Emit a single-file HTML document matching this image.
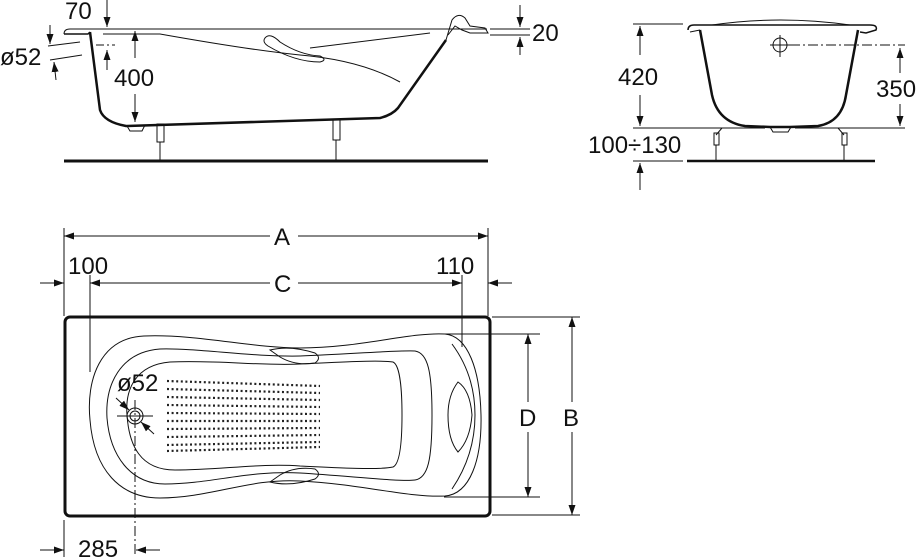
<!DOCTYPE html>
<html><head><style>
html,body{margin:0;padding:0;background:#fff;}
svg{display:block;}
text{font-family:"Liberation Sans",sans-serif;font-size:24px;fill:#111;}
</style></head><body>
<svg width="920" height="557" viewBox="0 0 920 557" xmlns="http://www.w3.org/2000/svg">
<defs>
<marker id="ar" viewBox="0 0 10 10" refX="10" refY="5" markerWidth="10" markerHeight="10" orient="auto-start-reverse" markerUnits="userSpaceOnUse"><path d="M0,1.5 L10,5 L0,8.5 z" fill="#111"/></marker>
</defs>
<g fill="none" stroke="#111" stroke-width="1">
<path d="M64,34 Q64,29 70,29 L487,29" />
<path d="M64,34 L88,34 L90,32" stroke-width="1.5"/>
<path d="M90,32 L100,110 Q104,122 126,126 L380,118 Q392,115 398,108 L446,40" stroke-width="2.5"/>
<path d="M446,40 L452,20 Q458,12 465,18 L470,26 L485,28 L488,33 L470,33 L462,30 L455,26 L448,35"/>
<path d="M103,34 L160,34 Q250,50 300,55 Q360,60 400,82"/>
<path d="M310,48 L430,33"/>
<path d="M265,38 Q270,32 280,42 Q300,55 320,56 Q328,60 320,62 Q295,62 268,46 Q262,42 265,38 z"/>
<path d="M127,126 L130,131 L142,131 L145,125"/>
<line x1="64" y1="161" x2="488" y2="161" stroke-width="3"/>
<path d="M157,124 L157,142 L164,142 L164,124 z M160,142 L160,160"/>
<path d="M333,120 L333,140 L340,140 L340,120 z M336,140 L336,160"/>
<line x1="96" y1="45" x2="115" y2="45" stroke-dasharray="8,3,2,3"/>
<line x1="48" y1="46" x2="80" y2="42"/><line x1="50" y1="60" x2="82" y2="55"/>
<line x1="107" y1="0" x2="107" y2="27" marker-end="url(#ar)"/>
<line x1="107" y1="70" x2="107" y2="50" marker-end="url(#ar)"/>
<line x1="50" y1="25" x2="50" y2="44" marker-end="url(#ar)"/>
<line x1="56" y1="80" x2="54" y2="62" marker-end="url(#ar)"/>
<line x1="135" y1="58" x2="135" y2="31" marker-end="url(#ar)"/>
<line x1="135" y1="94" x2="135" y2="122" marker-end="url(#ar)"/>
<line x1="490" y1="29" x2="530" y2="29"/><line x1="490" y1="35" x2="530" y2="35"/>
<line x1="520" y1="5" x2="520" y2="27" marker-end="url(#ar)"/>
<line x1="520" y1="55" x2="520" y2="37" marker-end="url(#ar)"/>
<path d="M688,30 Q688,25 694,25 L870,25 Q878,25 876,30 L866,33 L860,32" stroke-width="1.5"/>
<path d="M712,25 Q780,15 850,25"/>
<path d="M700,30 L712,95 Q718,122 745,126 L770,127 L790,127 L818,126 Q842,122 846,95 L858,30" stroke-width="2.5"/>
<path d="M700,30 L690,32"/>
<path d="M770,127 L773,132 L788,132 L791,127"/>
<circle cx="780" cy="45" r="7"/><line x1="770" y1="45" x2="790" y2="45"/><line x1="780" y1="35" x2="780" y2="57"/>
<line x1="790" y1="45" x2="905" y2="45" stroke-dasharray="10,3,2,3"/>
<line x1="633" y1="24" x2="683" y2="24"/>
<line x1="633" y1="128" x2="765" y2="128"/><line x1="795" y1="128" x2="905" y2="128"/>
<line x1="640" y1="55" x2="640" y2="26" marker-end="url(#ar)"/>
<line x1="640" y1="95" x2="640" y2="126" marker-end="url(#ar)"/>
<line x1="900" y1="73" x2="900" y2="48" marker-end="url(#ar)"/>
<line x1="900" y1="104" x2="900" y2="126" marker-end="url(#ar)"/>
<line x1="633" y1="161" x2="683" y2="161"/>
<line x1="687" y1="161" x2="875" y2="161" stroke-width="2.5"/>
<line x1="640" y1="190" x2="640" y2="163" marker-end="url(#ar)"/>
<path d="M722,128 L716,135 M714,133 L714,145 L719,145 L719,133 z M716,145 L716,160"/>
<path d="M838,128 L844,135 M842,133 L842,145 L847,145 L847,133 z M844,145 L844,160"/>
<rect x="65" y="317" width="425" height="199" rx="5" stroke-width="3"/>
<line x1="64" y1="228" x2="64" y2="316"/><line x1="488" y1="228" x2="488" y2="316"/>
<line x1="64" y1="236" x2="270" y2="236" marker-start="url(#ar)"/>
<line x1="298" y1="236" x2="488" y2="236" marker-end="url(#ar)"/>
<line x1="90" y1="275" x2="90" y2="372"/><line x1="462" y1="275" x2="462" y2="347"/>
<line x1="90" y1="283" x2="270" y2="283" marker-start="url(#ar)"/>
<line x1="298" y1="283" x2="462" y2="283" marker-end="url(#ar)"/>
<line x1="40" y1="283" x2="64" y2="283" marker-end="url(#ar)"/>
<line x1="512" y1="283" x2="488" y2="283" marker-end="url(#ar)"/>
<line x1="444" y1="334" x2="540" y2="334"/><line x1="444" y1="497" x2="540" y2="497"/>
<line x1="492" y1="317" x2="580" y2="317"/><line x1="492" y1="515" x2="580" y2="515"/>
<line x1="528" y1="334" x2="528" y2="402" marker-start="url(#ar)"/>
<line x1="528" y1="432" x2="528" y2="497" marker-end="url(#ar)"/>
<line x1="572" y1="317" x2="572" y2="402" marker-start="url(#ar)"/>
<line x1="572" y1="432" x2="572" y2="515" marker-end="url(#ar)"/>
<path d="M144,336 C100,338 86,380 90,420 C94,470 120,498 160,498 C210,498 250,478 300,481 C360,484 410,498 445,496 C470,494 482,460 481,415 C480,370 468,336 445,334 C410,332 360,348 300,348 C250,348 200,334 144,336 z"/>
<path d="M160,349 C120,352 105,385 107,418 C110,455 130,484 165,484 C210,484 250,470 300,473 C350,476 400,482 415,480 C428,478 432,460 432,415 C432,372 428,353 415,351 C400,350 350,354 300,356 C250,357 200,348 160,349 z"/>
<path d="M170,362 C135,365 125,390 127,415 C129,445 140,470 175,470 C220,470 260,463 300,466 C340,468 380,470 393,467 C400,464 402,440 402,415 C402,390 400,365 393,362 C380,360 340,362 300,364 C260,366 220,360 170,362 z"/>
<path d="M270,350 Q290,345 315,353 Q322,358 315,363 Q295,366 280,357 z"/>
<path d="M270,482 Q290,487 315,479 Q322,474 315,469 Q295,466 280,475 z"/>
<path d="M452,344 Q475,375 475,415 Q475,455 452,489"/>
<path d="M458,382 Q448,395 448,415 Q448,440 458,452 Q470,440 472,415 Q470,390 458,382 z"/>
<circle cx="135" cy="416" r="8"/><circle cx="135" cy="416" r="5"/>
<line x1="117" y1="416" x2="153" y2="416"/>
<line x1="135" y1="400" x2="135" y2="557" stroke-dasharray="10,3,2,3"/>
<line x1="116" y1="398" x2="129" y2="410" marker-end="url(#ar)"/>
<line x1="154" y1="434" x2="141" y2="422" marker-end="url(#ar)"/>
<line x1="64" y1="520" x2="64" y2="557"/>
<line x1="40" y1="550" x2="64" y2="550" marker-end="url(#ar)"/>
<line x1="160" y1="550" x2="136" y2="550" marker-end="url(#ar)"/>
</g>
<g stroke="#222" stroke-width="2.2" stroke-dasharray="2,2.6" fill="none">
<path d="M167,381 L320,386"/><path d="M167,389 L320,393"/><path d="M167,397 L320,400"/><path d="M167,405 L320,407"/><path d="M167,413 L320,414"/><path d="M167,421 L320,421"/><path d="M167,429 L320,428"/><path d="M167,437 L320,435"/><path d="M167,445 L320,442"/><path d="M167,451 L320,447"/>
</g>
<text x="65" y="19">70</text>
<text x="0" y="65">ø52</text>
<text x="114" y="86">400</text>
<text x="532" y="41">20</text>
<text x="618" y="85">420</text>
<text x="876" y="97">350</text>
<text x="588" y="153">100÷130</text>
<text x="274" y="245">A</text>
<text x="68" y="274">100</text>
<text x="274" y="292">C</text>
<text x="436" y="274">110</text>
<text x="519" y="426">D</text>
<text x="563" y="426">B</text>
<text x="117" y="391">ø52</text>
<text x="78" y="557">285</text>
</svg>
</body></html>
